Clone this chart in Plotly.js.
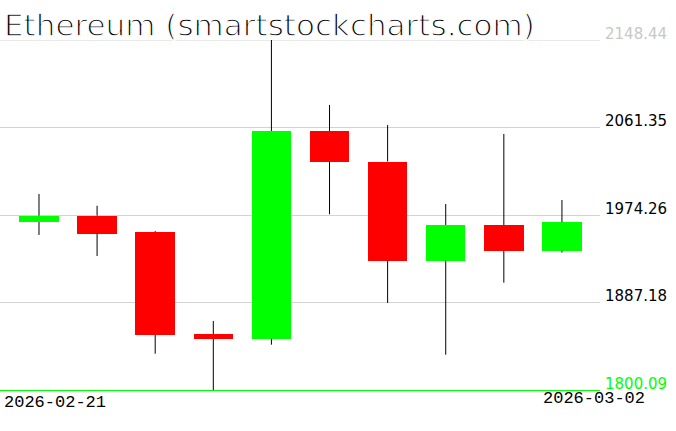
<!DOCTYPE html>
<html>
<head>
<meta charset="utf-8">
<script src="https://cdn.plot.ly/plotly-3.0.1.min.js"></script>
<style>
html,body{margin:0;padding:0;background:#fff;}
#chart{width:676px;height:431px;}
#chart .annotation[data-index="7"] text{stroke:#ffffff;stroke-width:1.3px;paint-order:normal;}
</style>
</head>
<body>
<div id="chart"></div>
<script>
const titleText = 'Ethereum (smartstockcharts.com)';
const dates = ['2026-02-21','2026-02-22','2026-02-23','2026-02-24','2026-02-25','2026-02-26','2026-02-27','2026-02-28','2026-03-01','2026-03-02'];
const opens  = [1967.3, 1973.6, 1957.4, 1855.8, 1850.9, 2057.9, 2027.5, 1928.8, 1964.3, 1938.7];
const highs  = [1995.2, 1983.5, 1958.4, 1868.8, 2148.44, 2083.8, 2063.8, 1985.2, 2054.9, 1989.2];
const lows   = [1954.4, 1933.5, 1836.2, 1800.09, 1845.2, 1975.0, 1886.7, 1835.2, 1906.9, 1936.8];
const closes = [1973.6, 1955.7, 1854.8, 1850.9, 2057.9, 2027.3, 1928.8, 1964.3, 1938.7, 1967.3];
const yTicks = [1800.09, 1887.18, 1974.26, 2061.35, 2148.44];
const yTickLabels = ['1800.09', '1887.18', '1974.26', '2061.35', '2148.44'];
const yTickColors = ['#00ff00', '#000000', '#000000', '#000000', '#c8c8c8'];
const dateLabels = [dates[0], dates[dates.length - 1]];

const UP = '#00ff00', DOWN = '#ff0000';

const bodyBase = opens.map((o, i) => Math.min(o, closes[i]));
const bodyLen = opens.map((o, i) => Math.abs(closes[i] - o));
const bodyCol = opens.map((o, i) => closes[i] >= o ? UP : DOWN);

const wx = [], wy = [];
dates.forEach((d, i) => {
  const top = Math.max(opens[i], closes[i]);
  const bot = Math.min(opens[i], closes[i]);
  wx.push(d, d, null, d, d, null);
  wy.push(highs[i], top, null, bot, lows[i], null);
});

const traces = [
  {
    type: 'bar', x: dates, y: bodyLen, base: bodyBase, width: 0.68,
    marker: {color: bodyCol, line: {width: 0}}, hoverinfo: 'none', showlegend: false
  },
  {
    type: 'scatter', mode: 'lines', x: wx, y: wy, connectgaps: false,
    line: {color: '#000000', width: 1}, hoverinfo: 'none', showlegend: false
  }
];

const annotations = [];
yTicks.forEach((v, i) => {
  annotations.push({
    xref: 'paper', x: 1, xanchor: 'left', xshift: 3,
    yref: 'y', y: v, yanchor: 'bottom', yshift: -4.5,
    text: yTickLabels[i], showarrow: false,
    font: {family: 'DejaVu Sans', size: 15, color: yTickColors[i]}
  });
});
annotations.push({
  xref: 'paper', x: 0, xanchor: 'left', xshift: 2,
  yref: 'paper', y: 0, yanchor: 'top', yshift: -1,
  text: dateLabels[0], showarrow: false,
  font: {family: 'Liberation Mono', size: 17, color: '#000000'}
});
annotations.push({
  xref: 'paper', x: 1, xanchor: 'right', xshift: 47,
  yref: 'paper', y: 0, yanchor: 'top', yshift: 3,
  text: dateLabels[1], showarrow: false,
  font: {family: 'Liberation Mono', size: 17, color: '#000000'}
});
annotations.push({
  xref: 'paper', x: 0, xanchor: 'left', xshift: 2,
  yref: 'paper', y: 1, yanchor: 'bottom', yshift: -5.5,
  text: titleText, showarrow: false,
  font: {family: 'DejaVu Sans', size: 31, color: '#000000'}
});

const layout = {
  width: 676, height: 431,
  margin: {l: 0, r: 76, t: 40, b: 41, pad: 0},
  paper_bgcolor: '#ffffff', plot_bgcolor: '#ffffff',
  showlegend: false,
  bargap: 0,
  xaxis: {
    type: 'category', range: [-0.671, 9.655], fixedrange: true,
    showticklabels: false, ticks: '', showgrid: false, zeroline: false,
    showline: true, linecolor: '#00ff00', linewidth: 1
  },
  yaxis: {
    range: [yTicks[0], yTicks[yTicks.length - 1]], fixedrange: true,
    tickmode: 'array', tickvals: yTicks, showticklabels: false, ticks: '',
    showgrid: true, gridcolor: '#d3d3d3', gridwidth: 1, zeroline: false, showline: false
  },
  shapes: [{
    type: 'line', layer: 'below', xref: 'paper', x0: 0, x1: 1,
    yref: 'y', y0: yTicks[yTicks.length - 1], y1: yTicks[yTicks.length - 1],
    line: {color: '#d3d3d3', width: 1}
  }],
  annotations: annotations
};

Plotly.newPlot('chart', traces, layout, {displayModeBar: false, staticPlot: true});
</script>
</body>
</html>
